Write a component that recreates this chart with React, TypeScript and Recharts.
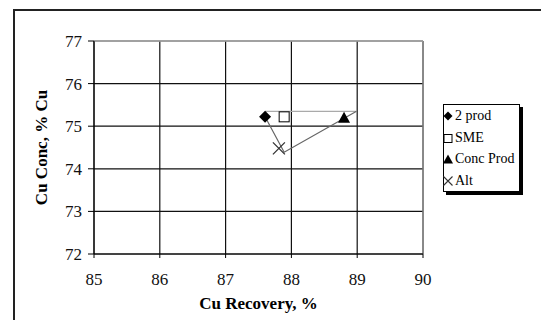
import React from 'react';
import { ScatterChart, Scatter, XAxis, YAxis, CartesianGrid, ReferenceLine } from 'recharts';

const xTicks = [85, 86, 87, 88, 89, 90];
const yTicks = [72, 73, 74, 75, 76, 77];

const twoProd = [{ x: 87.6, y: 75.22 }];
const sme = [{ x: 87.89, y: 75.22 }];
const concProd = [{ x: 88.8, y: 75.2 }];
const alt = [{ x: 87.81, y: 74.48 }];

const outlineTop = [{ x: 87.6, y: 75.35 }, { x: 88.99, y: 75.35 }];
const outlineDiag = [{ x: 87.6, y: 75.22 }, { x: 87.89, y: 74.39 }, { x: 88.99, y: 75.35 }];

const FONT = '"Liberation Serif", "Times New Roman", serif';

const Diamond = (p: any) => {
  const { cx, cy } = p;
  const r = 6;
  return <path d={`M${cx},${cy - r}L${cx + r},${cy}L${cx},${cy + r}L${cx - r},${cy}Z`} fill="#000" />;
};
const Square = (p: any) => {
  const { cx, cy } = p;
  const r = 5;
  return <rect x={cx - r} y={cy - r} width={2 * r} height={2 * r} fill="#fff" stroke="#000" strokeWidth={1} />;
};
const Triangle = (p: any) => {
  const { cx, cy } = p;
  const r = 6;
  return <path d={`M${cx},${cy - r}L${cx + r},${cy + r - 1}L${cx - r},${cy + r - 1}Z`} fill="#000" />;
};
const Cross = (p: any) => {
  const { cx, cy } = p;
  const r = 6;
  return (
    <path d={`M${cx - r},${cy - r}L${cx + r},${cy + r}M${cx - r},${cy + r}L${cx + r},${cy - r}`} stroke="#333" strokeWidth={1.3} fill="none" />
  );
};
const Empty = () => <g />;

const legendItems = [
  { label: '2 prod', icon: (cx: number, cy: number) => <path d={`M${cx},${cy - 4.5}L${cx + 4.5},${cy}L${cx},${cy + 4.5}L${cx - 4.5},${cy}Z`} fill="#000" /> },
  { label: 'SME', icon: (cx: number, cy: number) => <rect x={cx - 4} y={cy - 3.5} width={8} height={8} fill="#fff" stroke="#000" /> },
  { label: 'Conc Prod', icon: (cx: number, cy: number) => <path d={`M${cx},${cy - 4.5}L${cx + 5},${cy + 4.5}L${cx - 5},${cy + 4.5}Z`} fill="#000" /> },
  { label: 'Alt', icon: (cx: number, cy: number) => <path d={`M${cx - 4.5},${cy - 4.5}L${cx + 4.5},${cy + 4.5}M${cx - 4.5},${cy + 4.5}L${cx + 4.5},${cy - 4.5}`} stroke="#333" strokeWidth={1.1} /> },
];

const LegendBox = () => (
  <div
    style={{
      position: 'absolute',
      left: 443,
      top: 104,
      width: 77,
      height: 88,
      border: '1px solid #000',
      boxShadow: '3px 3px 0 #000',
      background: '#fff',
      fontFamily: FONT,
      fontSize: 14,
      color: '#000',
      boxSizing: 'border-box',
      paddingTop: 0,
      overflow: 'visible',
      whiteSpace: 'nowrap',
    }}
  >
    {legendItems.map((it) => (
      <div key={it.label} style={{ display: 'flex', alignItems: 'center', height: 21.7 }}>
        <svg width={11} height={12} style={{ marginLeft: -1, overflow: 'visible' }}>
          {it.icon(5, 6)}
        </svg>
        <span style={{ marginLeft: 1 }}>{it.label}</span>
      </div>
    ))}
  </div>
);

export default function App() {
  return (
    <div style={{ position: 'absolute', left: 0, top: 0, width: 541, height: 320, background: '#fff' }}>
      <div style={{ position: 'absolute', left: 13, top: 9, width: 528, height: 311, borderTop: '2px solid #222', borderLeft: '2px solid #222', boxSizing: 'border-box' }} />
      <div style={{ position: 'absolute', left: 0, top: 0 }}>
        <ScatterChart width={541} height={320} margin={{ top: 41, right: 118, bottom: 20, left: 40 }}>
          <CartesianGrid stroke="#111" strokeWidth={1.2} verticalValues={xTicks} horizontalValues={yTicks} />
          <XAxis
            type="number"
            dataKey="x"
            domain={[85, 90]}
            ticks={xTicks}
            allowDataOverflow
            height={46}
            stroke="#000"
            tickSize={4}
            tickLine={{ stroke: '#000' }}
            tick={{ fill: '#111', fontSize: 17, fontFamily: FONT, dy: 13 }}
            label={{ value: 'Cu Recovery, %', position: 'insideBottom', offset: -9, style: { fontFamily: FONT, fontSize: 17, fontWeight: 'bold', fill: '#000' } }}
          />
          <YAxis
            type="number"
            dataKey="y"
            domain={[72, 77]}
            ticks={yTicks}
            allowDataOverflow
            width={54}
            stroke="#000"
            tickSize={6}
            tickLine={{ stroke: '#000' }}
            tick={{ fill: '#111', fontSize: 17, fontFamily: FONT, dx: -4 }}
            label={{ value: 'Cu Conc, % Cu', angle: -90, position: 'insideLeft', offset: 0, dx: 1, style: { textAnchor: 'middle', fontFamily: FONT, fontSize: 17, fontWeight: 'bold', fill: '#000' } }}
          />
          <ReferenceLine y={77} stroke="#aaa" strokeWidth={1.5} />
          <ReferenceLine x={90} stroke="#999" strokeWidth={1.2} />
          <Scatter data={outlineTop} line={{ stroke: '#aaa', strokeWidth: 1.3 }} shape={Empty} isAnimationActive={false} legendType="none" />
          <Scatter data={outlineDiag} line={{ stroke: '#666', strokeWidth: 1.2 }} shape={Empty} isAnimationActive={false} legendType="none" />
          <Scatter name="2 prod" data={twoProd} shape={Diamond} isAnimationActive={false} />
          <Scatter name="SME" data={sme} shape={Square} isAnimationActive={false} />
          <Scatter name="Conc Prod" data={concProd} shape={Triangle} isAnimationActive={false} />
          <Scatter name="Alt" data={alt} shape={Cross} isAnimationActive={false} />
        </ScatterChart>
      </div>
      <LegendBox />
    </div>
  );
}
